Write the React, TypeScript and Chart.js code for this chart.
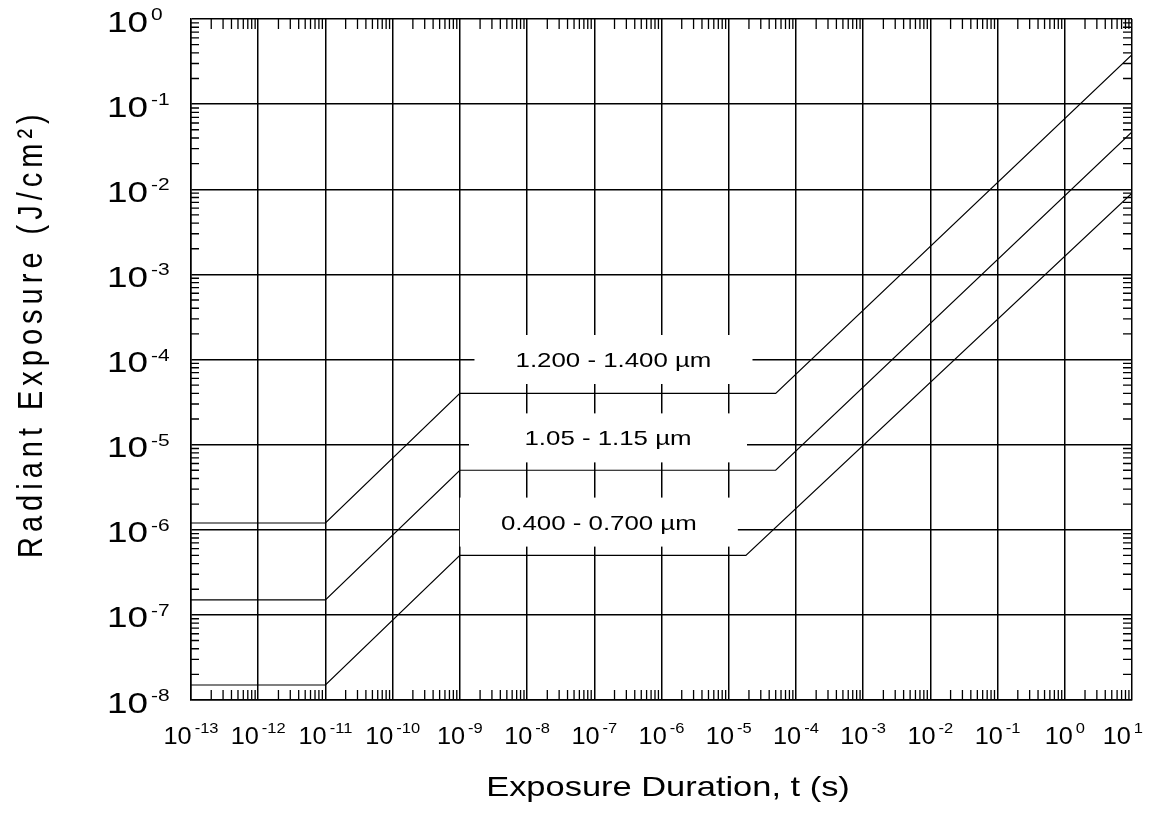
import React, { useEffect, useRef } from "react";
import { Chart, registerables } from "chart.js";

Chart.register(...registerables);

// ---- tick labels (powers of ten) ----
const xTickExponents = [-13, -12, -11, -10, -9, -8, -7, -6, -5, -4, -3, -2, -1, 0, 1];
const yTickExponents = [0, -1, -2, -3, -4, -5, -6, -7, -8];

// ---- series: exposure duration t (s) vs radiant exposure (J/cm²) ----
const visibleT = [1e-13, 1e-11, 1e-9, 1.8e-5, 10];
const visibleH = [1.5e-8, 1.5e-8, 5e-7, 5e-7, 9e-3];

const nearIrT = [1e-13, 1e-11, 1e-9, 5e-5, 10];
const nearIrH = [1.5e-7, 1.5e-7, 5e-6, 5e-6, 4.7e-2];

const irT = [1e-13, 1e-11, 1e-9, 5e-5, 10];
const irH = [1.2e-6, 1.2e-6, 4e-5, 4e-5, 3.8e-1];

// ---- band annotations ----
const bandLabels = ["0.400 - 0.700 µm", "1.05 - 1.15 µm", "1.200 - 1.400 µm"];
const bandLabelT = [1.17e-7, 1.6e-7, 1.93e-7];
const bandLabelH = [1.23e-6, 1.2e-5, 1e-4];

const xTitle = "Exposure Duration, t (s)";
const yTitle = "Radiant Exposure (J/cm²)";

const FONT = '"Liberation Sans", Arial, Helvetica, sans-serif';
const HS = 1.23; // horizontal stretch of the lettering
const HS_X = 1.1; // stretch for the x tick labels

function drawText(
  ctx: CanvasRenderingContext2D,
  text: string,
  x: number,
  y: number,
  size: number,
  align: CanvasTextAlign,
  hs: number = HS
) {
  ctx.save();
  ctx.translate(x, y);
  ctx.scale(hs, 1);
  ctx.font = `${size}px ${FONT}`;
  ctx.textAlign = align;
  ctx.textBaseline = "alphabetic";
  ctx.fillStyle = "#000";
  ctx.fillText(text, 0, 0);
  ctx.restore();
}

function textWidth(ctx: CanvasRenderingContext2D, text: string, size: number, hs: number = HS) {
  ctx.save();
  ctx.font = `${size}px ${FONT}`;
  const w = ctx.measureText(text).width * hs;
  ctx.restore();
  return w;
}

const decorPlugin = {
  id: "decor",
  beforeDatasetsDraw(chart: any) {
    const { ctx } = chart;
    const xs = chart.scales.x;
    const ys = chart.scales.y;
    ctx.save();
    bandLabels.forEach((txt, i) => {
      const cx = xs.getPixelForValue(bandLabelT[i]);
      const cy = ys.getPixelForValue(bandLabelH[i]);
      ctx.fillStyle = "#fff";
      ctx.fillRect(cx - 139, cy - 24.5, 278, 49);
      drawText(ctx, txt, cx, cy + 7.5, 21, "center");
    });
    ctx.restore();
  },
  afterDraw(chart: any) {
    const { ctx, chartArea } = chart;
    const xs = chart.scales.x;
    const ys = chart.scales.y;
    const { left, right, top, bottom } = chartArea;
    ctx.save();
    ctx.strokeStyle = "#000";
    ctx.lineWidth = 1.3;
    ctx.beginPath();
    // minor ticks on x (bottom and top, pointing inward)
    for (let d = xTickExponents[0]; d < xTickExponents[xTickExponents.length - 1]; d++) {
      for (let k = 2; k <= 9; k++) {
        const px = xs.getPixelForValue(k * Math.pow(10, d));
        ctx.moveTo(px, bottom);
        ctx.lineTo(px, bottom - 10);
        ctx.moveTo(px, top);
        ctx.lineTo(px, top + 10);
      }
    }
    // minor ticks on y (left and right, pointing inward)
    for (let d = yTickExponents[yTickExponents.length - 1]; d < yTickExponents[0]; d++) {
      for (let k = 2; k <= 9; k++) {
        const py = ys.getPixelForValue(k * Math.pow(10, d));
        ctx.moveTo(left, py);
        ctx.lineTo(left + 8, py);
        ctx.moveTo(right, py);
        ctx.lineTo(right - 9, py);
      }
    }
    ctx.stroke();

    // x tick labels
    xTickExponents.forEach((e) => {
      const px = xs.getPixelForValue(Math.pow(10, e));
      const base = "10";
      const exp = String(e);
      const wb = textWidth(ctx, base, 23, HS_X);
      const we = textWidth(ctx, exp, 15, HS_X);
      const gap = 3;
      const total = wb + gap + we;
      const sx = Math.min(px - total / 2, chart.width - 12 - total);
      drawText(ctx, base, sx, bottom + 44, 23, "left", HS_X);
      drawText(ctx, exp, sx + wb + gap, bottom + 33, 15, "left", HS_X);
    });

    // y tick labels
    yTickExponents.forEach((e) => {
      const py = ys.getPixelForValue(Math.pow(10, e));
      const base = "10";
      const exp = String(e);
      const lx = left - 84;
      const wb = textWidth(ctx, base, 30);
      drawText(ctx, base, lx, py + 12.5, 30, "left");
      drawText(ctx, exp, lx + wb + 3, py + 1, 17, "left");
    });

    // x axis title
    drawText(ctx, xTitle, 660, 788, 28, "center");

    // y axis title (rotated, anchored at its lower end)
    ctx.save();
    ctx.translate(34, 550);
    ctx.rotate(-Math.PI / 2);
    ctx.scale(1, HS);
    ctx.font = `29px ${FONT}`;
    (ctx as any).letterSpacing = "5px";
    ctx.textAlign = "left";
    ctx.textBaseline = "alphabetic";
    ctx.fillStyle = "#000";
    ctx.fillText(yTitle, 0, 0);
    ctx.restore();

    ctx.restore();
  },
};

function toPoints(ts: number[], hs: number[]) {
  return ts.map((t, i) => ({ x: t, y: hs[i] }));
}

export default function App() {
  const ref = useRef<HTMLCanvasElement>(null);
  useEffect(() => {
    if (!ref.current) return;
    const line = (label: string, ts: number[], hs: number[]) => ({
      label,
      data: toPoints(ts, hs),
      borderColor: "#000",
      borderWidth: 1.2,
      pointRadius: 0,
      fill: false,
      tension: 0,
    });
    const chart = new Chart(ref.current, {
      type: "line",
      data: {
        datasets: [
          line(bandLabels[0], visibleT, visibleH),
          line(bandLabels[1], nearIrT, nearIrH),
          line(bandLabels[2], irT, irH),
        ],
      },
      options: {
        animation: false,
        responsive: false,
        events: [],
        layout: { padding: { left: 183, top: 11, right: 23, bottom: 106 } },
        plugins: { legend: { display: false }, tooltip: { enabled: false } },
        scales: {
          x: {
            type: "logarithmic",
            min: 1e-13,
            max: 10,
            afterBuildTicks: (s: any) => {
              s.ticks = xTickExponents.map((e) => ({ value: Math.pow(10, e) }));
            },
            ticks: { display: false },
            grid: { color: "#000", lineWidth: 1.5, drawTicks: false },
            border: { display: true, color: "#000", width: 1.5 },
          },
          y: {
            type: "logarithmic",
            min: 1e-8,
            max: 1,
            afterBuildTicks: (s: any) => {
              s.ticks = yTickExponents.map((e) => ({ value: Math.pow(10, e) }));
            },
            ticks: { display: false },
            grid: { color: "#000", lineWidth: 1.5, drawTicks: false },
            border: { display: true, color: "#000", width: 1.5 },
          },
        },
      },
      plugins: [decorPlugin],
    } as any);
    return () => chart.destroy();
  }, []);
  return (
    <div style={{ width: 1147, height: 798 }}>
      <canvas ref={ref} width={1147} height={798} style={{ display: "block" }} />
    </div>
  );
}
